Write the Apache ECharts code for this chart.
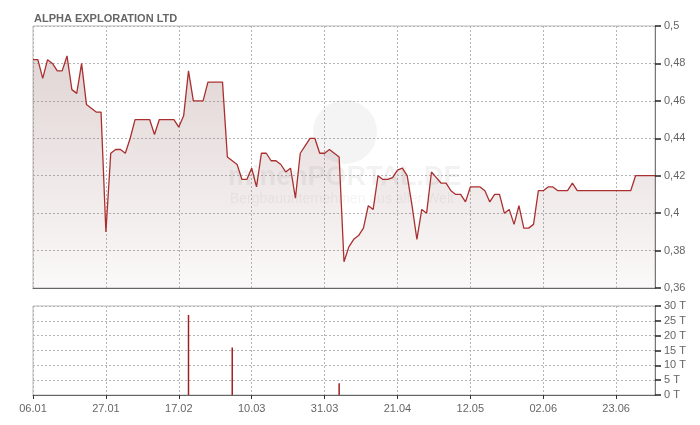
<!DOCTYPE html>
<html>
<head>
<meta charset="utf-8">
<script src="https://cdn.jsdelivr.net/npm/echarts@6/dist/echarts.min.js"></script>
<style>html,body{margin:0;padding:0;background:#fff}#c{width:700px;height:425px}</style>
</head>
<body>
<div id="c"></div>
<script>
const title = 'ALPHA EXPLORATION LTD';
const categories = [
'06.01','07.01','08.01','09.01','10.01',
'13.01','14.01','15.01','16.01','17.01',
'20.01','21.01','22.01','23.01','24.01',
'27.01','28.01','29.01','30.01','31.01',
'03.02','04.02','05.02','06.02','07.02',
'10.02','11.02','12.02','13.02','14.02',
'17.02','18.02','19.02','20.02','21.02',
'24.02','25.02','26.02','27.02','28.02',
'03.03','04.03','05.03','06.03','07.03',
'10.03','11.03','12.03','13.03','14.03',
'17.03','18.03','19.03','20.03','21.03',
'24.03','25.03','26.03','27.03','28.03',
'31.03','01.04','02.04','03.04','04.04',
'07.04','08.04','09.04','10.04','11.04',
'14.04','15.04','16.04','17.04','18.04',
'21.04','22.04','23.04','24.04','25.04',
'28.04','29.04','30.04','01.05','02.05',
'05.05','06.05','07.05','08.05','09.05',
'12.05','13.05','14.05','15.05','16.05',
'19.05','20.05','21.05','22.05','23.05',
'26.05','27.05','28.05','29.05','30.05',
'02.06','03.06','04.06','05.06','06.06',
'09.06','10.06','11.06','12.06','13.06',
'16.06','17.06','18.06','19.06','20.06',
'23.06','24.06','25.06','26.06','27.06',
'30.06','01.07','02.07','03.07'
];
const prices = [
0.482,0.482,0.472,0.482,0.480,0.476,0.476,0.484,0.466,0.464,
0.480,0.458,0.456,0.454,0.454,0.390,0.432,0.434,0.434,0.432,
0.440,0.450,0.450,0.450,0.450,0.442,0.450,0.450,0.450,0.450,
0.446,0.452,0.476,0.460,0.460,0.460,0.470,0.470,0.470,0.470,
0.430,0.428,0.426,0.418,0.418,0.424,0.414,0.432,0.432,0.428,
0.428,0.426,0.422,0.424,0.408,0.432,0.436,0.440,0.440,0.432,
0.432,0.434,0.432,0.430,0.374,0.382,0.386,0.388,0.392,0.404,
0.402,0.420,0.418,0.418,0.419,0.423,0.424,0.420,0.404,0.386,
0.402,0.400,0.422,0.419,0.416,0.416,0.412,0.410,0.410,0.406,
0.414,0.414,0.414,0.412,0.406,0.410,0.410,0.400,0.402,0.394,
0.404,0.392,0.392,0.394,0.412,0.412,0.414,0.414,0.412,0.412,
0.412,0.416,0.412,0.412,0.412,0.412,0.412,0.412,0.412,0.412,
0.412,0.412,0.412,0.412,0.420,0.420,0.420,0.420,0.420
];
const volumeDates = ['19.02','04.03','03.04'];
const volumeValues = [27, 16, 4];
const priceTicks = [0.36, 0.38, 0.40, 0.42, 0.44, 0.46, 0.48, 0.50];
const volumeTicks = [0, 5, 10, 15, 20, 25, 30];

const volumes = categories.map(d => {
  const k = volumeDates.indexOf(d);
  return k >= 0 ? volumeValues[k] : 0;
});

const FONT = 'Liberation Sans, Arial, sans-serif';
const dotted = {show: true, lineStyle: {color: '#b5b5b5', type: [2, 2], width: 1}};
const chart = echarts.init(document.getElementById('c'), null, {renderer: 'canvas'});
chart.setOption({
  animation: false,
  backgroundColor: '#fff',
  textStyle: {fontFamily: FONT},
  title: {text: title, left: 29, top: 8, textStyle: {fontSize: 11, fontWeight: 'bold', color: '#666', fontFamily: FONT}},
  graphic: [
    {type: 'circle', shape: {cx: 345, cy: 132, r: 32}, style: {fill: 'rgba(0,0,0,0.045)'}, z: 1, silent: true},
    {type: 'text', left: 228, top: 164, style: {text: 'minenPORTAL.DE', fontSize: 27, fontWeight: 'bold', fill: 'rgba(0,0,0,0.05)', fontFamily: FONT}, z: 1, silent: true},
    {type: 'text', left: 230, top: 192, style: {text: 'Bergbauunternehmen aus aller Welt', fontSize: 14, fill: 'rgba(0,0,0,0.05)', fontFamily: FONT}, z: 1, silent: true}
  ],
  grid: [
    {left: 33, right: 45, top: 26, height: 262, show: true, borderColor: '#bbb', borderWidth: 1, backgroundColor: 'transparent'},
    {left: 33, right: 45, top: 306, height: 89, show: true, borderColor: '#bbb', borderWidth: 1, backgroundColor: 'transparent'}
  ],
  xAxis: [
    {type: 'category', gridIndex: 0, data: categories, boundaryGap: false,
     axisLine: {lineStyle: {color: '#666', width: 1}}, axisTick: {show: false}, axisLabel: {show: false},
     splitLine: Object.assign({interval: 14}, dotted)},
    {type: 'category', gridIndex: 1, data: categories, boundaryGap: false,
     axisLine: {lineStyle: {color: '#666', width: 1}},
     axisTick: {show: true, interval: 14, length: 4, lineStyle: {color: '#333'}},
     axisLabel: {interval: 14, color: '#666', fontSize: 11, margin: 8, fontFamily: FONT},
     splitLine: Object.assign({interval: 14}, dotted)}
  ],
  yAxis: [
    {type: 'value', gridIndex: 0, position: 'right', min: priceTicks[0], max: priceTicks[priceTicks.length - 1], interval: 0.02,
     axisLine: {show: true, lineStyle: {color: '#777', width: 1}},
     axisTick: {show: true, length: 6, lineStyle: {color: '#222', width: 1.5}},
     axisLabel: {color: '#666', fontSize: 11, margin: 9, fontFamily: FONT,
       formatter: v => String(+v.toFixed(2)).replace('.', ',')},
     splitLine: dotted},
    {type: 'value', gridIndex: 1, position: 'right', min: volumeTicks[0], max: volumeTicks[volumeTicks.length - 1], interval: 5,
     axisLine: {show: true, lineStyle: {color: '#777', width: 1}},
     axisTick: {show: true, length: 6, lineStyle: {color: '#222', width: 1.5}},
     axisLabel: {color: '#666', fontSize: 11, margin: 9, fontFamily: FONT, formatter: v => v + ' T'},
     splitLine: dotted}
  ],
  series: [
    {type: 'line', xAxisIndex: 0, yAxisIndex: 0, data: prices, symbol: 'none', z: 3,
     lineStyle: {color: '#aa3030', width: 1.3},
     areaStyle: {origin: 'start', color: new echarts.graphic.LinearGradient(0, 0, 0, 1, [
       {offset: 0, color: 'rgba(125,70,70,0.32)'},
       {offset: 1, color: 'rgba(125,70,70,0.05)'}
     ])}},
    {type: 'bar', xAxisIndex: 1, yAxisIndex: 1, data: volumes, barWidth: 1.5, z: 3,
     itemStyle: {color: '#a02020'}}
  ]
});
</script>
</body>
</html>
